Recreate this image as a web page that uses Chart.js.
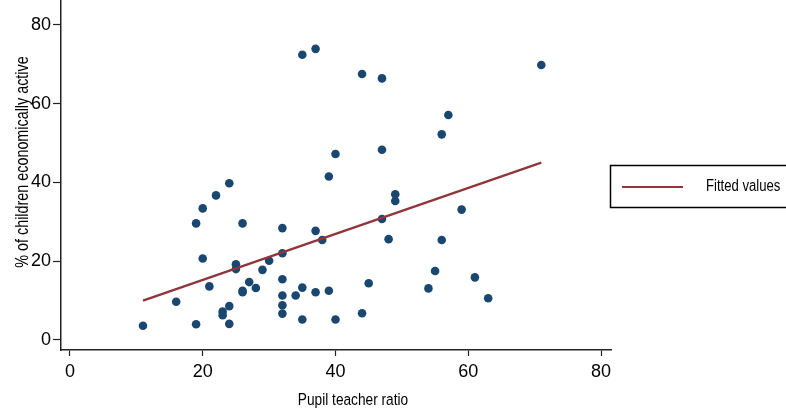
<!DOCTYPE html>
<html><head><meta charset="utf-8">
<script src="https://cdn.jsdelivr.net/npm/chart.js@4/dist/chart.umd.min.js"></script>
<style>html,body{margin:0;padding:0;background:#fff;overflow:hidden}#wrap{width:786px;height:412px;position:relative}</style>
</head><body><div id="wrap"><canvas id="c" width="786" height="412"></canvas></div>
<script>
// ---- data ----
const pupilTeacherRatio = [11,16,19,19,20,20,21,22,24,26,23,23,24,24,25,25,26,26,27,28,29,30,32,32,32,32,32,32,34,35,35,37,38,37,39,40,39,40,44,45,47,49,49,47,48,55,54,59,56,61,63,35,37,44,47,57,56,71];
const childrenActive    = [3.6,9.7,4.0,29.6,33.4,20.7,13.6,36.7,39.8,29.6,7.2,6.3,8.6,4.1,19.2,18.0,12.5,12.1,14.7,13.2,17.8,20.1,28.4,22.0,15.4,11.3,8.8,6.7,11.3,13.3,5.2,27.7,25.4,12.1,41.5,47.2,12.5,5.2,6.8,14.4,48.3,37.0,35.3,30.7,25.6,17.5,13.1,33.1,25.4,15.9,10.6,72.4,73.9,67.5,66.4,57.1,52.2,69.8];
const fitX = [11, 71];
const fitY = [10.0, 45.0];
const xTicks = [0, 20, 40, 60, 80];
const yTicks = [0, 20, 40, 60, 80];
const xTitle = 'Pupil teacher ratio';
const yTitle = '% of children economically active';
const fitLabel = 'Fitted values';

const FONT = "'Liberation Sans', Arial, sans-serif";
const NARROW = 0.82;
const DOT = '#1a476f';
const FIT = '#90353b';

const scatterPts = pupilTeacherRatio.map((x, i) => ({x: x, y: childrenActive[i]}));
const fitPts = fitX.map((x, i) => ({x: x, y: fitY[i]}));

function narrowText(ctx, text, x, y, rot) {
  ctx.save();
  ctx.translate(x, y);
  if (rot) ctx.rotate(rot);
  ctx.scale(NARROW, 1);
  ctx.fillText(text, 0, 0);
  ctx.restore();
}

const extras = {
  id: 'extras',
  afterDraw(chart) {
    const ctx = chart.ctx, a = chart.chartArea;
    ctx.save();
    ctx.fillStyle = '#000';
    ctx.textAlign = 'center';
    ctx.textBaseline = 'middle';
    ctx.font = '16.7px ' + FONT;
    narrowText(ctx, xTitle, a.left + 292, a.bottom + 50, 0);
    ctx.font = '17.5px ' + FONT;
    narrowText(ctx, yTitle, 23, a.top + 162, -Math.PI / 2);
    // legend
    ctx.strokeStyle = '#000';
    ctx.lineWidth = 1.5;
    ctx.strokeRect(610.5, 165.5, 200, 42);
    ctx.strokeStyle = FIT;
    ctx.lineWidth = 2.2;
    ctx.beginPath(); ctx.moveTo(622, 187); ctx.lineTo(683, 187); ctx.stroke();
    ctx.textAlign = 'left';
    ctx.font = '16px ' + FONT;
    narrowText(ctx, fitLabel, 706, 187, 0);
    ctx.restore();
  }
};

new Chart(document.getElementById('c'), {
  type: 'scatter',
  data: {
    datasets: [
      {label: 'Observed', data: scatterPts, backgroundColor: DOT, borderWidth: 0,
       pointRadius: 4.3, pointHoverRadius: 4.3, order: 2},
      {label: fitLabel, type: 'line', data: fitPts, showLine: true, borderColor: FIT,
       borderWidth: 2.3, pointRadius: 0, fill: false, order: 1}
    ]
  },
  options: {
    responsive: false,
    animation: false,
    devicePixelRatio: 1,
    events: [],
    layout: {autoPadding: false, padding: {left: 0, top: 0, right: 175, bottom: 0}},
    plugins: {legend: {display: false}, tooltip: {enabled: false}},
    scales: {
      x: {
        type: 'linear', min: -1.35, max: 81.5,
        afterBuildTicks: s => { s.ticks = xTicks.map(v => ({value: v})); },
        afterFit: s => { s.height = 62; s.paddingLeft = 0; s.paddingRight = 0; },
        grid: {display: true, drawOnChartArea: false, drawTicks: true, tickLength: 6, tickColor: '#222', tickWidth: 1.2},
        border: {display: true, color: '#222', width: 1.5},
        ticks: {font: {family: FONT, size: 18}, color: '#000', padding: 5, maxRotation: 0}
      },
      y: {
        type: 'linear', min: -2.54, max: 86.3,
        afterBuildTicks: s => { s.ticks = yTicks.map(v => ({value: v})); },
        afterFit: s => { s.width = 61; s.paddingTop = 0; s.paddingBottom = 0; },
        grid: {display: true, drawOnChartArea: false, drawTicks: true, tickLength: 8, tickColor: '#222', tickWidth: 1.2},
        border: {display: true, color: '#222', width: 1.5},
        ticks: {font: {family: FONT, size: 18}, color: '#000', padding: 2}
      }
    }
  },
  plugins: [extras]
});
</script>
</body></html>
